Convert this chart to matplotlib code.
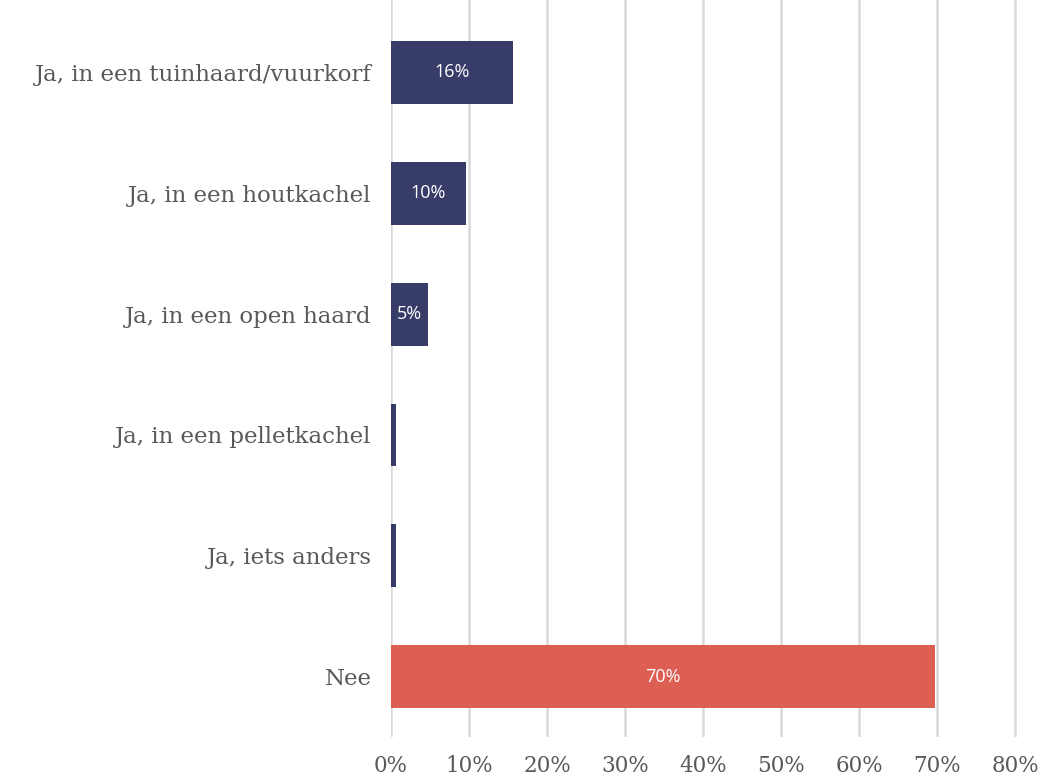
import matplotlib
matplotlib.use("Agg")
import matplotlib.pyplot as plt
from matplotlib.ticker import FuncFormatter

categories = ["Ja, in een tuinhaard/vuurkorf", "Ja, in een houtkachel", "Ja, in een open haard",
              "Ja, in een pelletkachel", "Ja, iets anders", "Nee"]
values = [15.7, 9.6, 4.7, 0.6, 0.6, 69.7]
labels = ["16%", "10%", "5%", "", "", "70%"]
colors = ["#383C69", "#383C69", "#383C69", "#383C69", "#383C69", "#DD5E52"]
xticks = [0, 10, 20, 30, 40, 50, 60, 70, 80]

fig = plt.figure(figsize=(10.45, 7.78), dpi=100)
x0, px10 = 391, 78.0
ax = fig.add_axes([x0/1045, 1-737/778, (px10*8.05)/1045, 737/778])

y = list(range(len(categories)))
bars = ax.barh(y, values, height=0.52, color=colors, zorder=3)
for b, lab in zip(bars, labels):
    if lab:
        ax.text(b.get_x() + b.get_width()/2, b.get_y() + b.get_height()/2, lab,
                ha="center", va="center", color="white", fontsize=13, family="Open Sans", zorder=4)

ax.set_ylim(5.5, -0.6)
ax.set_xlim(0, 80.5)
ax.set_xticks(xticks)
ax.xaxis.set_major_formatter(FuncFormatter(lambda v, p: f"{int(v)}%"))
ax.set_yticks(y)
ax.set_yticklabels(categories)
for lab in ax.get_yticklabels():
    lab.set_family("DejaVu Serif")
    lab.set_color("#595959")
    lab.set_fontsize(16.5)
for lab in ax.get_xticklabels():
    lab.set_family("DejaVu Serif")
    lab.set_color("#595959")
    lab.set_fontsize(15.5)
ax.tick_params(axis="both", length=0)
ax.tick_params(axis="y", pad=14)
ax.tick_params(axis="x", pad=13)
ax.grid(axis="x", color="#D9D9D9", linewidth=1.8, zorder=0)
for s in ax.spines.values():
    s.set_visible(False)

fig.savefig("out.png", dpi=100)
